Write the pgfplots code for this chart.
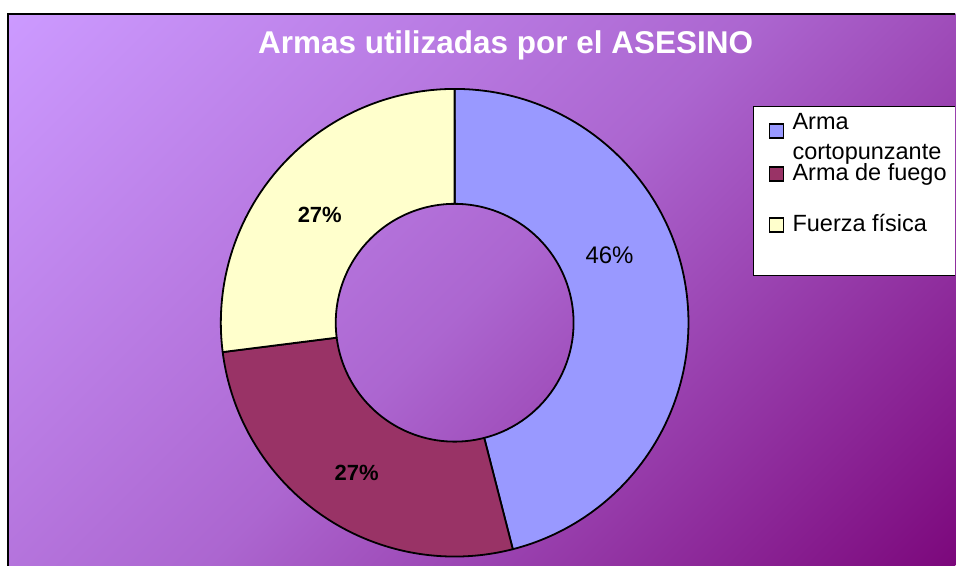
\documentclass[border=0pt]{standalone}
\usepackage{pgfplots}
\pgfplotsset{compat=1.18}
\usepackage{pgfplotstable}
\usepackage{fontspec}
\setmainfont{Liberation Sans}

\definecolor{bgA}{RGB}{204,154,255}
\definecolor{bgM}{RGB}{172,102,208}
\definecolor{bgB}{RGB}{124,8,124}
\definecolor{sBlue}{RGB}{153,153,255}
\definecolor{sRed}{RGB}{153,51,102}
\definecolor{sYel}{RGB}{255,255,204}

% corner-to-corner background gradient
\pgfdeclareverticalshading{bgsh}{100bp}{color(0bp)=(bgB); color(14.6bp)=(bgB);
  color(50bp)=(bgM); color(85.4bp)=(bgA); color(100bp)=(bgA)}

% share of each weapon (percent)
\pgfplotstableread{
label value
cortopunzante 46
fuego 27
fisica 27
}\armas

\pgfplotstablegetelem{0}{value}\of\armas \let\va\pgfplotsretval
\pgfplotstablegetelem{1}{value}\of\armas \let\vb\pgfplotsretval
\pgfplotstablegetelem{2}{value}\of\armas \let\vc\pgfplotsretval
\pgfmathsetmacro\tot{\va+\vb+\vc}
\pgfmathsetmacro\aA{90}
\pgfmathsetmacro\aB{\aA-3.6*(\va/\tot)*100}
\pgfmathsetmacro\aC{\aB-3.6*(\vb/\tot)*100}
\pgfmathsetmacro\aD{\aC-3.6*(\vc/\tot)*100}

\def\cx{455}\def\cy{243}\def\Ro{234}\def\Ri{119}

% annular sector: #1 fill, #2 start angle, #3 end angle
\newcommand{\ring}[3]{%
  \filldraw[fill=#1,draw=black,line width=1.8pt,line join=round]
    (axis cs:{\cx+\Ro*cos(#2)},{\cy+\Ro*sin(#2)})
    arc[start angle=#2,end angle=#3,radius=\Ro pt]
    -- (axis cs:{\cx+\Ri*cos(#3)},{\cy+\Ri*sin(#3)})
    arc[start angle=#3,end angle=#2,radius=\Ri pt] -- cycle;}

\begin{document}
\begin{tikzpicture}
\begin{axis}[
    width=956pt, height=566pt, scale only axis,
    xmin=0, xmax=956, ymin=0, ymax=566,
    hide axis, clip=false]
  \fill[white] (axis cs:0,0) rectangle (axis cs:956,566);
  \shade[shading=bgsh, shading angle=45]
    (axis cs:8,0) rectangle (axis cs:956,552);
  \draw[black,line width=1.5pt] (axis cs:8,0) -- (axis cs:8,552) -- (axis cs:956,552);

  \node[text=white,font=\bfseries\fontsize{31.5}{36}\selectfont] at (axis cs:506,521)
    {Armas utilizadas por el ASESINO};

  \ring{sBlue}{\aA}{\aB}
  \ring{sRed}{\aB}{\aC}
  \ring{sYel}{\aC}{\aD}

  \node[font=\fontsize{24}{28}\selectfont] at (axis cs:610,311) {46\%};
  \node[font=\bfseries\fontsize{22}{26}\selectfont] at (axis cs:320,351) {27\%};
  \node[font=\bfseries\fontsize{22}{26}\selectfont] at (axis cs:357,93) {27\%};

  % legend
  \fill[white] (axis cs:754,290) rectangle (axis cs:956,459);
  \draw[black,line width=1pt] (axis cs:956,459) -- (axis cs:754,459) -- (axis cs:754,290) -- (axis cs:956,290);
  \filldraw[fill=sBlue,draw=black,line width=1.4pt] (axis cs:770,428) rectangle (axis cs:784,442);
  \filldraw[fill=sRed,draw=black,line width=1.4pt] (axis cs:770,385) rectangle (axis cs:784,399);
  \filldraw[fill=sYel,draw=black,line width=1.4pt] (axis cs:770,334) rectangle (axis cs:784,348);
  \begin{scope}[every node/.style={anchor=base west,inner sep=0pt,font=\fontsize{23.5}{26}\selectfont}]
    \node at (axis cs:793,436) {Arma};
    \node at (axis cs:793,406) {cortopunzante};
    \node at (axis cs:793,385) {Arma de fuego};
    \node at (axis cs:793,334) {Fuerza física};
  \end{scope}
\end{axis}
\end{tikzpicture}
\end{document}
